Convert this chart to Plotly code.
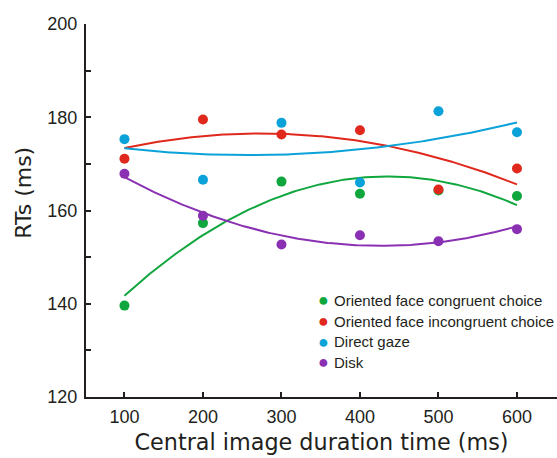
import numpy as np
import plotly.graph_objects as go

durations = [100, 200, 300, 400, 500, 600]
series_names = ["Oriented face congruent choice", "Oriented face incongruent choice", "Direct gaze", "Disk"]
congruent = [139.6, 157.3, 166.2, 163.6, 164.3, 163.1]
incongruent = [171.1, 179.5, 176.3, 177.2, 164.5, 169.0]
direct_gaze = [175.3, 166.6, 178.8, 166.0, 181.3, 176.8]
disk = [167.9, 158.9, 152.7, 154.7, 153.4, 156.0]
colors = ["#10a63e", "#e0281c", "#0aa2d8", "#8a30b2"]
y_ticks = [120, 140, 160, 180, 200]

INK = "#231f20"
fig = go.Figure()
xs = np.array(durations, dtype=float)
xfit = np.linspace(xs.min(), xs.max(), 200)
all_series = [congruent, incongruent, direct_gaze, disk]
for name, vals, col in zip(series_names, all_series, colors):
    coef = np.polyfit(xs, np.array(vals), 2)
    fig.add_trace(go.Scatter(x=xfit, y=np.polyval(coef, xfit), mode="lines",
                             line=dict(color=col, width=2), showlegend=False, hoverinfo="skip"))
for name, vals, col in zip(series_names, all_series, colors):
    fig.add_trace(go.Scatter(x=durations, y=vals, mode="markers", name=name,
                             marker=dict(color=col, size=10), showlegend=False))

# legend drawn as text rows
legend_y = [0.2592, 0.2029, 0.1478, 0.0932]
annotations = []
for name, col, ly in zip(series_names, colors, legend_y):
    annotations.append(dict(xref="paper", yref="paper", x=0.5038, y=ly, xanchor="center",
                            yanchor="middle", text="●", showarrow=False,
                            font=dict(size=18, color=col, family="Liberation Sans, Arial")))
    annotations.append(dict(xref="paper", yref="paper", x=0.5225, y=ly, xanchor="left",
                            yanchor="middle", text=name, showarrow=False,
                            font=dict(size=15, color=INK, family="Liberation Sans, Arial")))
# y-axis title (sits above the axis centre in the reference)
annotations.append(dict(xref="paper", yref="paper", x=-0.1316, y=0.5475, xanchor="center",
                        yanchor="middle", text="RTs (ms)", textangle=-90, showarrow=False,
                        font=dict(size=22, family="DejaVu Sans", color=INK)))

fig.update_layout(
    width=557, height=458,
    margin=dict(l=86, r=0, t=24, b=60.5, autoexpand=False),
    plot_bgcolor="white", paper_bgcolor="white",
    font=dict(family="Liberation Sans, Arial", color=INK),
    showlegend=False,
    annotations=annotations,
    xaxis=dict(range=[51, 651], tickvals=durations, ticks="inside", ticklen=5,
               tickwidth=1.5, tickcolor=INK, showline=True, linecolor=INK,
               linewidth=2, showgrid=False, zeroline=False, automargin=False,
               tickfont=dict(size=18, color=INK), ticklabelstandoff=2,
               title=dict(text="Central image duration time (ms)",
                          font=dict(size=22.3, family="DejaVu Sans", color=INK), standoff=9)),
    yaxis=dict(range=[120, 200], tickvals=y_ticks, ticks="inside", ticklen=5,
               tickwidth=1.5, tickcolor=INK, showline=True, linecolor=INK,
               linewidth=2, showgrid=False, zeroline=False, automargin=False,
               minor=dict(dtick=10, ticks="inside", ticklen=5, tickwidth=1.5, tickcolor=INK),
               tickfont=dict(size=18, color=INK), ticklabelstandoff=3),
)
fig.write_html("out.html", config={"displayModeBar": False},
               post_script="document.body.style.margin='0';document.body.style.overflow='hidden';")
